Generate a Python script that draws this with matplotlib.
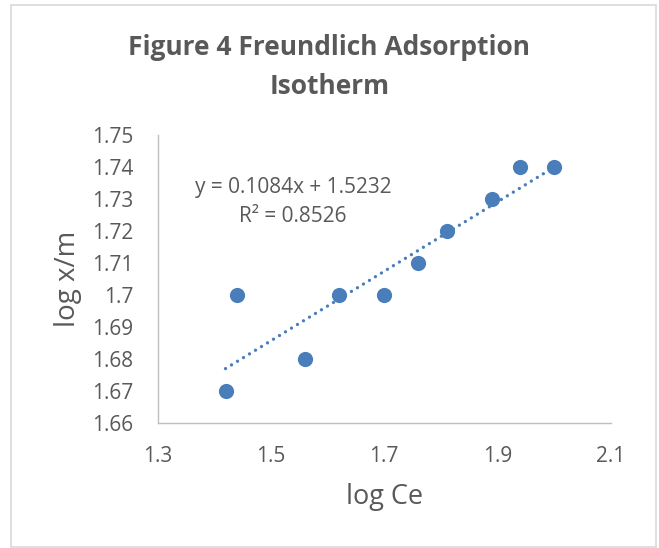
import matplotlib
matplotlib.use("Agg")
import matplotlib.pyplot as plt
from matplotlib.patches import Rectangle

# data
log_ce = [1.42, 1.44, 1.56, 1.62, 1.70, 1.76, 1.81, 1.89, 1.94, 2.00]
log_xm = [1.67, 1.70, 1.68, 1.70, 1.70, 1.71, 1.72, 1.73, 1.74, 1.74]
slope = 0.1084
intercept = 1.5232
r2 = 0.8526
xticks = [1.3, 1.5, 1.7, 1.9, 2.1]
yticks = [1.66, 1.67, 1.68, 1.69, 1.70, 1.71, 1.72, 1.73, 1.74, 1.75]
ytick_labels = ['1.66', '1.67', '1.68', '1.69', '1.7', '1.71', '1.72', '1.73', '1.74', '1.75']

plt.rcParams['font.family'] = ['Open Sans', 'DejaVu Sans']
grey = '#595959'
blue = '#4a7ebb'

fig = plt.figure(figsize=(6.59, 5.48), dpi=100)
# chart area border
fig.patches.append(Rectangle((11 / 659, 1.5 / 548), 645 / 659, 542 / 548, transform=fig.transFigure,
                             fill=False, edgecolor='#d9d9d9', linewidth=1.2))
ax = fig.add_axes([0.239, 0.2272, 0.688, 0.5264])

ax.scatter(log_ce, log_xm, s=120, color=blue, zorder=3, linewidths=0)

# linear trendline
x0, x1 = min(log_ce), max(log_ce)
ax.plot([x0, x1], [slope * x0 + intercept, slope * x1 + intercept],
        linestyle=(0, (0.01, 2.1)), dash_capstyle='round', color=blue, linewidth=2.4)

ax.text(1.539, 1.7335, f'y = {slope}x + {intercept}', ha='center', va='center', fontsize=15, color=grey)
ax.text(1.539, 1.7245, f'R² = {r2}', ha='center', va='center', fontsize=15, color=grey)

ax.set_xlim(1.3, 2.1)
ax.set_ylim(1.66, 1.75)
ax.set_xticks(xticks)
ax.set_xticklabels([str(t) for t in xticks])
ax.set_yticks(yticks)
ax.set_yticklabels(ytick_labels)
ax.tick_params(length=0, labelsize=15, colors=grey)
ax.tick_params(axis='y', pad=17.5)
ax.tick_params(axis='x', pad=16)
for s in ['top', 'right']:
    ax.spines[s].set_visible(False)
for s in ['left', 'bottom']:
    ax.spines[s].set_color('#bfbfbf')
    ax.spines[s].set_linewidth(1)

ax.set_xlabel('log Ce', fontsize=19.5, color=grey, labelpad=12)
ax.set_ylabel('log x/m', fontsize=20, color=grey, labelpad=7)
fig.text(0.5, 0.878, 'Figure 4 Freundlich Adsorption\nIsotherm', ha='center', va='center',
         fontsize=19, fontweight='bold', color=grey, linespacing=1.57)

fig.savefig('out.png', dpi=100)
